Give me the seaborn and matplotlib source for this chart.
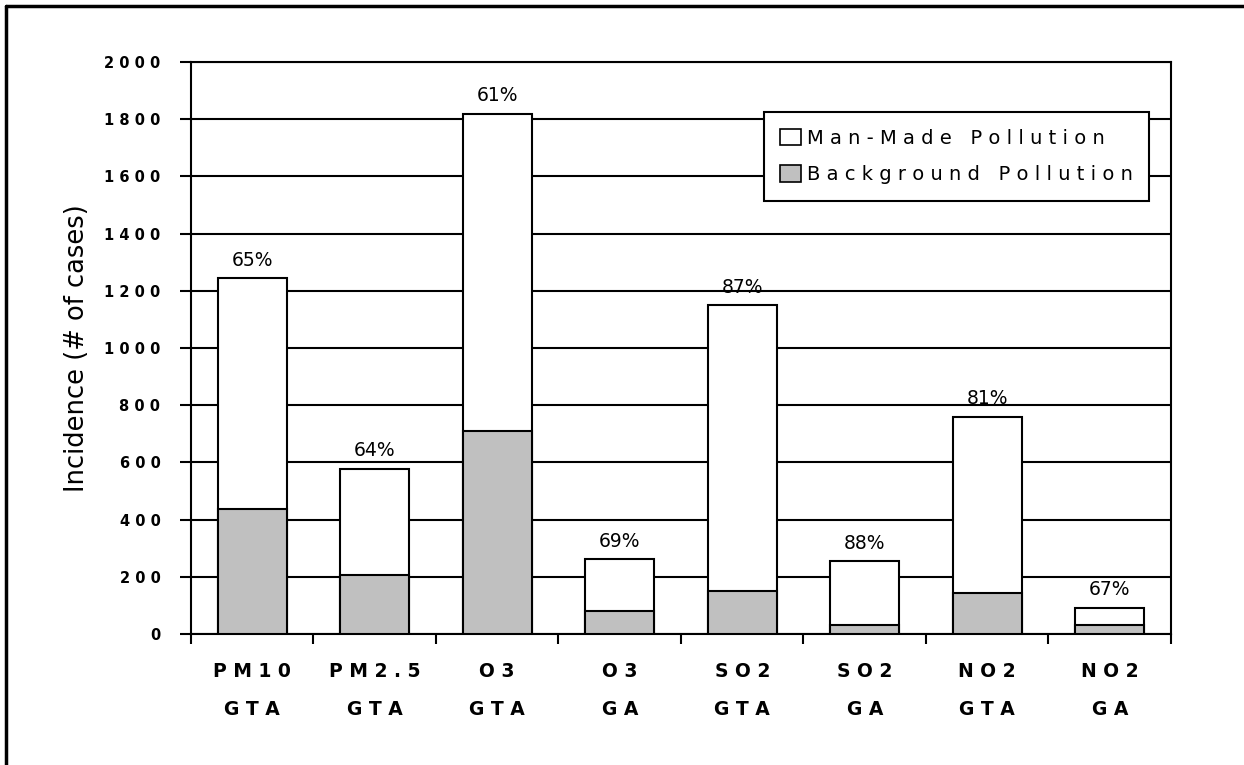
import matplotlib
matplotlib.use("Agg")
import matplotlib.pyplot as plt
from matplotlib.lines import Line2D
from matplotlib.patches import Patch
from matplotlib.ticker import FixedLocator, FuncFormatter
import numpy as np
import pandas as pd
import seaborn as sns

# Incidence by pollutant / region
pollutants = ["PM10", "PM2.5", "O3", "O3", "SO2", "SO2", "NO2", "NO2"]
regions = ["GTA", "GTA", "GTA", "GA", "GTA", "GA", "GTA", "GA"]
background = [436, 208, 710, 81, 150, 30, 144, 30]
man_made = [809, 370, 1110, 181, 1000, 225, 616, 62]
y_ticks = [0, 200, 400, 600, 800, 1000, 1200, 1400, 1600, 1800, 2000]


def spaced(s):
    """Wide letter spacing in the old spreadsheet style."""
    return "   ".join(" ".join(w) for w in s.split(" "))


df = pd.DataFrame({
    "key": [f"{p}|{r}|{i}" for i, (p, r) in enumerate(zip(pollutants, regions))],
    "background": background,
    "man_made": man_made,
})
df["total"] = df["background"] + df["man_made"]
df["pct"] = (100 * df["man_made"] / df["total"]).round().astype(int)

sns.set_style("white")
plt.rcParams["font.family"] = ["DejaVu Sans"]
plt.rcParams["text.color"] = "black"
plt.rcParams["axes.labelcolor"] = "black"
plt.rcParams["xtick.color"] = "black"
plt.rcParams["ytick.color"] = "black"

fig = plt.figure(figsize=(12.44, 7.65), dpi=100)
ax = fig.add_axes([0.1535, 0.1712, 0.7878, 0.7477])

bar_w = 0.56
sns.barplot(data=df, x="key", y="total", color="white", edgecolor="black",
            linewidth=1.5, width=bar_w, saturation=1, ax=ax, zorder=3)
sns.barplot(data=df, x="key", y="background", color="#C0C0C0",
            edgecolor="black", linewidth=1.5, width=bar_w, saturation=1,
            ax=ax, zorder=4)

# percentage of man-made share above each bar
ax.bar_label(ax.containers[0], labels=[f"{p}%" for p in df["pct"]],
             padding=6, fontsize=13.5, color="black")

ax.set_ylim(0, 2000)
ax.set_xlim(-0.5, len(df) - 0.5)

# gridlines
ax.yaxis.set_major_locator(FixedLocator(y_ticks))
ax.yaxis.set_major_formatter(FuncFormatter(lambda v, p: spaced(str(int(v)))))
ax.grid(axis="y", color="black", linewidth=1.5)
ax.grid(axis="x", visible=False)
ax.set_axisbelow(True)
for s in ax.spines.values():
    s.set_visible(True)
    s.set_color("black")
    s.set_linewidth(1.5)

ax.tick_params(axis="y", which="major", direction="out", length=8, width=1.5,
               left=True, pad=14, labelsize=10.5, colors="black")
for t in ax.get_yticklabels():
    t.set_fontweight("bold")

# category boundary ticks and centred two-line labels
n = len(df)
ax.set_xticks(np.arange(-0.5, n, 1.0))
ax.set_xticklabels([])
ax.set_xticks(np.arange(n), minor=True)
ax.set_xticklabels([f"{spaced(p)}\n{spaced(r)}" for p, r in zip(pollutants, regions)],
                   minor=True, fontsize=13.5, fontweight="bold", linespacing=2.3)
ax.tick_params(axis="x", which="major", direction="out", length=7, width=1.5,
               bottom=True, colors="black")
ax.tick_params(axis="x", which="minor", length=0, pad=20, colors="black")

ax.set_xlabel("")
ax.set_ylabel("Incidence (# of cases)", fontsize=18.5, color="black", labelpad=10)

handles = [Patch(facecolor="white", edgecolor="black", linewidth=1.2),
           Patch(facecolor="#C0C0C0", edgecolor="black", linewidth=1.2)]
leg = ax.legend(handles, [spaced("Man-Made Pollution"), spaced("Background Pollution")],
                loc="upper right", bbox_to_anchor=(0.9776, 0.9126),
                frameon=True, fancybox=False, framealpha=1, edgecolor="black",
                fontsize=14, handlelength=1.05, handleheight=0.95,
                handletextpad=0.3, labelspacing=0.9, borderpad=0.85,
                borderaxespad=0)
leg.get_frame().set_linewidth(1.5)
leg.set_zorder(10)
for t in leg.get_texts():
    t.set_color("black")

# page frame along the top and left edges
fig.add_artist(Line2D([6 / 1244, 6 / 1244], [0, 1 - 6 / 765], transform=fig.transFigure,
                      color="black", linewidth=2.5))
fig.add_artist(Line2D([6 / 1244, 1], [1 - 6 / 765, 1 - 6 / 765], transform=fig.transFigure,
                      color="black", linewidth=2.5))

fig.savefig("out.png", dpi=100, facecolor="white")
